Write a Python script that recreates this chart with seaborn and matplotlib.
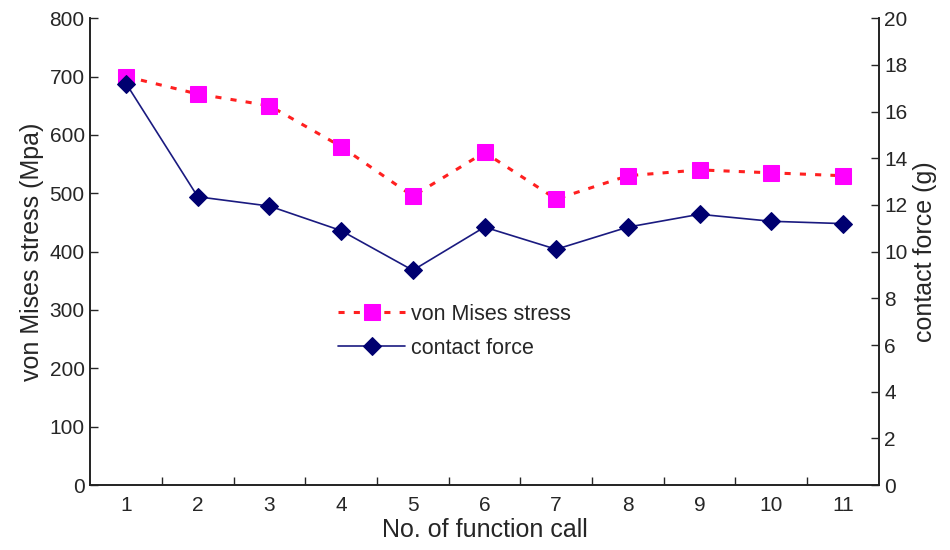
import matplotlib
matplotlib.use("Agg")
import matplotlib.pyplot as plt
from matplotlib.ticker import FixedLocator, NullFormatter
import seaborn as sns
import pandas as pd

calls = [1, 2, 3, 4, 5, 6, 7, 8, 9, 10, 11]
von_mises = [700, 670, 650, 580, 495, 570, 490, 530, 540, 535, 530]
contact_force = [17.2, 12.35, 11.95, 10.9, 9.2, 11.05, 10.1, 11.05, 11.6, 11.3, 11.2]

df = pd.DataFrame({"call": calls, "vm": von_mises, "cf": contact_force})

sns.set_style("white")
plt.rcParams['font.family'] = ['Liberation Sans', 'DejaVu Sans']

fig, ax = plt.subplots(figsize=(9.5, 5.5), dpi=100)
fig.subplots_adjust(left=0.095, right=0.925, top=0.967, bottom=0.118)
ax2 = ax.twinx()

sns.lineplot(data=df, x="call", y="vm", ax=ax, color="#ff2020", linestyle=(0, (2, 3)),
             linewidth=2.2, marker="s", markersize=12, markerfacecolor="#ff00ff",
             markeredgecolor="#ff00ff", label="von Mises stress", legend=False)
sns.lineplot(data=df, x="call", y="cf", ax=ax2, color="#1a1a80", linewidth=1.2,
             marker="D", markersize=9, markerfacecolor="#000070",
             markeredgecolor="#000070", label="contact force", legend=False)

ax.set_xlim(0.5, 11.5)
ax.set_ylim(0, 800)
ax2.set_ylim(0, 20)
ax.set_yticks(range(0, 801, 100))
ax2.set_yticks(range(0, 21, 2))
ax.xaxis.set_major_locator(FixedLocator(calls))
ax.xaxis.set_minor_locator(FixedLocator([c + 0.5 for c in calls[:-1]]))
ax.xaxis.set_minor_formatter(NullFormatter())
ax.tick_params(axis="x", which="major", length=0, labelsize=15, pad=8)
ax.tick_params(axis="x", which="minor", direction="in", length=6, width=1, bottom=True)
ax.tick_params(axis="y", direction="in", length=6, width=1, labelsize=15, left=True, pad=4)
ax2.tick_params(axis="y", direction="in", length=6, width=1, labelsize=15, right=True, pad=4)

ax.set_xlabel("No. of function call", fontsize=18, labelpad=2)
ax.set_ylabel("von Mises stress (Mpa)", fontsize=18, labelpad=4)
ax2.set_ylabel("contact force (g)", fontsize=18, labelpad=4)

for a in (ax, ax2):
    a.spines["top"].set_visible(False)
    for s in ("left", "right", "bottom"):
        a.spines[s].set_color("#222222")
        a.spines[s].set_linewidth(1.2)

h1, l1 = ax.get_legend_handles_labels()
h2, l2 = ax2.get_legend_handles_labels()
ax.legend(h1 + h2, l1 + l2, loc="upper left", bbox_to_anchor=(0.29, 0.43),
          frameon=False, fontsize=15.5, handlelength=3.1, handletextpad=0.3,
          labelspacing=0.6)

fig.savefig("out.png", dpi=100)
